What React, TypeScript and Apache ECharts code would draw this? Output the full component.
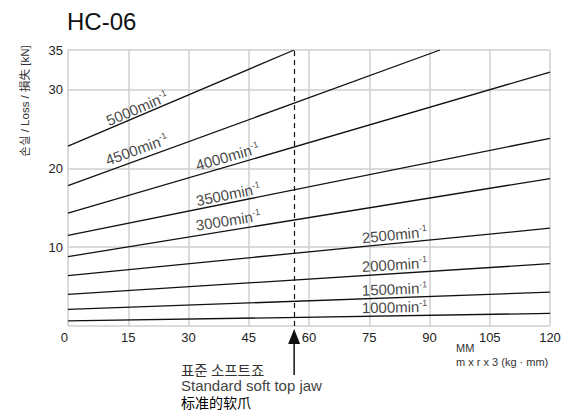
import React, { useEffect, useRef } from "react";
import * as echarts from "echarts";

// Rotational speed (min^-1) of each curve
const speeds = ["5000", "4500", "4000", "3500", "3000", "2500", "2000", "1500", "1000"];
// Loss [kN] at MM = 0
const startLoss = [22.8, 17.8, 14.3, 11.5, 8.8, 6.4, 4.0, 2.1, 0.64];
// MM at which each curve ends, and loss [kN] there
const endMM = [56.3, 92.6, 120, 120, 120, 120, 120, 120, 120];
const endLoss = [35, 35, 32.2, 23.8, 18.7, 12.4, 7.9, 4.3, 1.6];
// Curve label anchors (MM, kN)
const labelMM = [17.2, 17.1, 39.7, 39.9, 39.9, 81.3, 81.3, 81.3, 81.3];
const labelLoss = [27.6, 22.4, 21.5, 16.7, 13.4, 11.6, 7.8, 4.7, 2.4];
// Standard soft top jaw MM
const standardJawMM = 56.3;

const labelAngle = [23, 20, 16, 11.5, 9, 5.6, 3.6, 2.2, 1.2];

const FONT = "'Liberation Sans', Arial, 'Noto Sans CJK KR', sans-serif";

export default function App() {
  const ref = useRef<HTMLDivElement>(null);
  useEffect(() => {
    if (!ref.current) return;
    const chart = echarts.init(ref.current, null, { renderer: "svg" });
    const lineSeries = speeds.map((s, i) => ({
      type: "line",
      name: s,
      data: [
        [0, startLoss[i]],
        [endMM[i], endLoss[i]],
      ],
      showSymbol: false,
      symbol: "none",
      lineStyle: { color: "#111", width: 1.3 },
      silent: true,
      z: 3,
    }));
    const labelSeries = {
      type: "scatter",
      symbolSize: 0,
      silent: true,
      z: 5,
      data: speeds.map((s, i) => ({
        value: [labelMM[i], labelLoss[i]],
        label: {
          show: true,
          position: "inside",
          rotate: labelAngle[i],
          formatter: `{n|${s}min}{s|-1}`,
        },
      })),
      label: {
        show: true,
        rich: {
          n: { fontSize: 15, fontFamily: FONT, color: "#111", lineHeight: 16 },
          s: { fontSize: 9, fontFamily: FONT, color: "#111", verticalAlign: "top", lineHeight: 16 },
        },
      },
    };
    chart.setOption({
      animation: false,
      backgroundColor: "#fff",
      title: {
        text: "HC-06",
        left: 62,
        top: 4,
        textStyle: { fontSize: 24, fontWeight: "normal", color: "#111", fontFamily: FONT },
      },
      grid: { left: 68, right: 15, top: 50, bottom: 86, containLabel: false },
      xAxis: {
        type: "value",
        min: 0,
        max: 120,
        interval: 15,
        axisLine: { show: false },
        axisTick: { show: false },
        axisLabel: { color: "#222", fontSize: 13, fontFamily: FONT, margin: 5, alignMinLabel: "right" },
        splitLine: { show: true, lineStyle: { color: "#cfcfcf", width: 1.5 } },
      },
      yAxis: {
        type: "value",
        min: 0,
        max: 35,
        interval: 10,
        axisLine: { show: false },
        axisTick: { show: false },
        axisLabel: { color: "#222", fontSize: 13, fontFamily: FONT, margin: 5, showMinLabel: false },
        splitLine: { show: true, lineStyle: { color: "#cfcfcf", width: 1.5 } },
      },
      series: [
        ...lineSeries,
        labelSeries,
        {
          type: "line",
          data: [],
          silent: true,
          markLine: {
            silent: true,
            symbol: "none",
            label: { show: false },
            lineStyle: { color: "#111", type: [5, 4], width: 1.2 },
            data: [{ xAxis: standardJawMM }],
          },
        },
      ],
    });
    const ax = chart.convertToPixel({ xAxisIndex: 0 }, standardJawMM) as number;
    chart.setOption({
      graphic: [
        {
          type: "polygon",
          shape: { points: [[ax, 329], [ax - 6, 344], [ax + 6, 344]] },
          style: { fill: "#111" },
        },
        {
          type: "line",
          shape: { x1: ax, y1: 343, x2: ax, y2: 375 },
          style: { stroke: "#111", lineWidth: 1.5 },
        },
        {
          type: "text",
          x: 25,
          y: 101,
          rotation: Math.PI / 2,
          style: {
            text: "손실 / Loss / 損失 [kN]",
            fontSize: 11.5,
            fontFamily: "'Liberation Sans', 'Noto Sans CJK KR', sans-serif",
            fill: "#333",
            align: "center",
            verticalAlign: "middle",
          },
        },
        {
          type: "text",
          x: 456,
          y: 348,
          style: { text: "MM", fontSize: 11, fontFamily: FONT, fill: "#333", verticalAlign: "middle" },
        },
        {
          type: "text",
          x: 456,
          y: 362,
          style: { text: "m x r x 3 (kg · mm)", fontSize: 11, fontFamily: FONT, fill: "#333", verticalAlign: "middle" },
        },
        {
          type: "text",
          x: 181,
          y: 361,
          style: {
            text: "{k|표준 소프트죠}\n{e|Standard soft top jaw}\n{c|标准的软爪}",
            verticalAlign: "top",
            align: "left",
            rich: {
              k: { fontSize: 14.5, fontFamily: "'Noto Sans CJK KR', sans-serif", fill: "#333", lineHeight: 16.5 },
              e: { fontSize: 15, fontFamily: FONT, fill: "#444", lineHeight: 16.5 },
              c: { fontSize: 14, fontFamily: "'Noto Sans CJK SC', sans-serif", fill: "#000", lineHeight: 16.5 },
            },
          },
        },
      ],
    });
    return () => chart.dispose();
  }, []);
  return <div ref={ref} style={{ width: 565, height: 412, position: "absolute", left: 0, top: 0 }} />;
}
